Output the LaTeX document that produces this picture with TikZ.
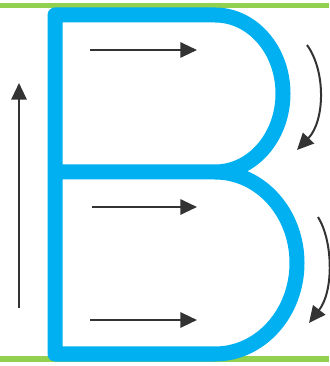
\documentclass[tikz,border=0pt]{standalone}
\usetikzlibrary{arrows.meta}
\definecolor{bstroke}{HTML}{00B0F0}
\definecolor{guide}{HTML}{92D050}
\definecolor{pen}{HTML}{333333}
\begin{document}
\begin{tikzpicture}[x=0.03cm,y=0.03cm,
  letter/.style={bstroke, line width=0.45cm, line join=round, line cap=round},
  dirarrow/.style={pen, line width=0.06cm, -{Triangle[length=0.5cm,width=0.46cm]}}]

\useasboundingbox (0,0) rectangle (329,366);

%% 罫線
\draw[guide, line width=0.15cm] (0,360.2) --(329,360.2);
\draw[guide, line width=0.18cm] (0,7) --(329,7);

%% 文字 B
\draw[letter] (55,194) --(215,194)
  arc[start angle=90, end angle=-90, x radius=82, y radius=91]
  --(55,12) --(55,351) --(215,351)
  arc[start angle=90, end angle=-90, x radius=68, y radius=78.5];

%% 矢印
% 横
\draw[dirarrow] (90,316) --(197,316);
\draw[dirarrow] (92,159) --(197,159);
\draw[dirarrow] (90,46) --(197,46);
% 縦
\draw[dirarrow] (19,58) --(19,283);
% 曲線
\draw[dirarrow] (307,321) .. controls (326,295) and (325,245) .. (297,216);
\draw[dirarrow] (318,149) .. controls (333,125) and (334,75) .. (309,43);

\end{tikzpicture}
\end{document}
